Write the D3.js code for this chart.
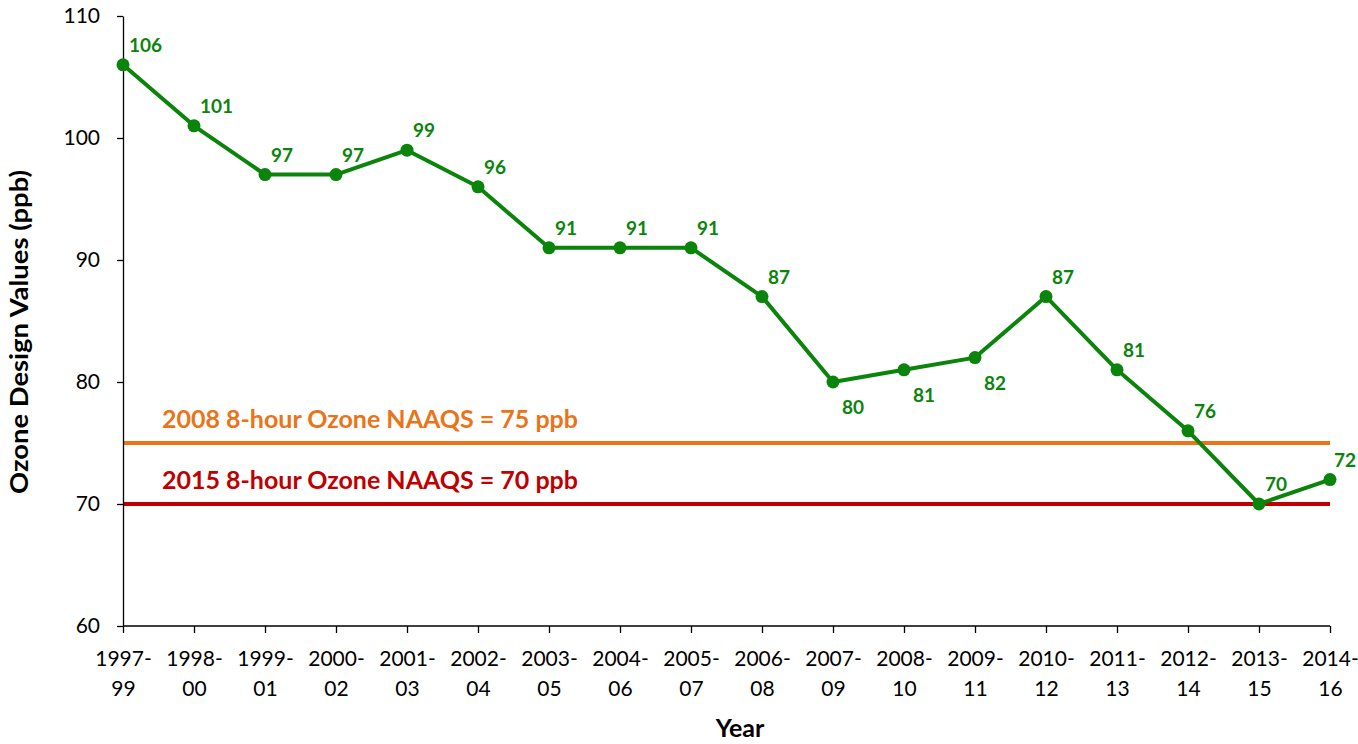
<!DOCTYPE html>
<html><head><meta charset="utf-8">
<script src="https://cdn.jsdelivr.net/npm/d3@7"></script>
<style>body{margin:0;background:#fff;} text{font-family:Lato,"Open Sans",sans-serif;}</style>
</head><body>
<svg id="chart" width="1358" height="744"></svg>
<script>
const categories = ["1997-99","1998-00","1999-01","2000-02","2001-03","2002-04","2003-05","2004-06","2005-07","2006-08","2007-09","2008-10","2009-11","2010-12","2011-13","2012-14","2013-15","2014-16"];
const values = [106,101,97,97,99,96,91,91,91,87,80,81,82,87,81,76,70,72];
const labelBelow = [false,false,false,false,false,false,false,false,false,false,true,true,true,false,false,false,false,false];
const yTicks = [60,70,80,90,100,110];
const standards = [{value:75,label:"2008 8-hour Ozone NAAQS = 75 ppb",color:"#EB7318"},{value:70,label:"2015 8-hour Ozone NAAQS = 70 ppb",color:"#C00000"}];

const svg = d3.select("#chart");
const m = {left:123, right:1330, top:16, bottom:626};
const x = d3.scalePoint().domain(categories).range([m.left, m.right]);
const y = d3.scaleLinear().domain([60,110]).range([m.bottom, m.top]);
const green = "#0B840B";

// reference lines
standards.forEach((s,i)=>{
  svg.append("line").attr("x1",m.left).attr("x2",m.right).attr("y1",y(s.value)).attr("y2",y(s.value))
    .attr("stroke",s.color).attr("stroke-width",4);
  svg.append("text").attr("x",162).attr("y",y(s.value)-15).attr("fill",s.color)
    .attr("font-size",25).attr("font-weight","bold").attr("textLength",416).attr("lengthAdjust","spacingAndGlyphs").text(s.label);
});

// axes
const yAxis = svg.append("g").attr("transform",`translate(${m.left},0)`)
  .call(d3.axisLeft(y).tickValues(yTicks).tickSize(6).tickSizeOuter(0));
yAxis.select(".domain").attr("stroke","#000").attr("stroke-width",1.3);
yAxis.selectAll(".tick line").attr("stroke","#000").attr("stroke-width",1.3);
yAxis.selectAll(".tick text").attr("font-size",21).attr("font-family","Lato,sans-serif").attr("fill","#000").attr("x",-23);

const xAxis = svg.append("g").attr("transform",`translate(0,${m.bottom})`)
  .call(d3.axisBottom(x).tickSize(7).tickSizeOuter(0).tickFormat(""));
xAxis.select(".domain").attr("stroke","#000").attr("stroke-width",1.3).attr("d",`M${m.left},0H${m.right}`);
xAxis.selectAll(".tick line").attr("stroke","#000").attr("stroke-width",1.3);
xAxis.selectAll(".tick").each(function(d){
  const parts = d.split("-");
  const t = d3.select(this).append("text").attr("fill","#000").attr("font-size",21).attr("text-anchor","middle");
  t.append("tspan").attr("x",0).attr("y",40).text(parts[0]+"-");
  t.append("tspan").attr("x",0).attr("y",70).text(parts[1]);
});

// titles
svg.append("text").attr("x",740).attr("y",737).attr("text-anchor","middle").attr("font-size",25).attr("font-weight","bold").text("Year");
svg.append("text").attr("transform",`translate(28,332) rotate(-90)`).attr("text-anchor","middle")
  .attr("font-size",25).attr("font-weight","bold").attr("textLength",324).attr("lengthAdjust","spacingAndGlyphs").text("Ozone Design Values (ppb)");

// series
const data = categories.map((c,i)=>({c, v:values[i], below:labelBelow[i]}));
svg.append("path").datum(data)
  .attr("d", d3.line().x(d=>x(d.c)).y(d=>y(d.v)))
  .attr("fill","none").attr("stroke",green).attr("stroke-width",4).attr("stroke-linejoin","round");
svg.selectAll("circle.pt").data(data).join("circle").attr("class","pt")
  .attr("cx",d=>x(d.c)).attr("cy",d=>y(d.v)).attr("r",6.5).attr("fill",green);
svg.selectAll("text.lbl").data(data).join("text").attr("class","lbl")
  .attr("x",(d,i)=>x(d.c)+ (i===data.length-1?4:(d.below?9:6))).attr("y",d=>y(d.v)+(d.below?32:-13))
  .attr("fill",green).attr("font-size",19).attr("font-weight","bold").text(d=>d.v);
</script>
</body></html>
